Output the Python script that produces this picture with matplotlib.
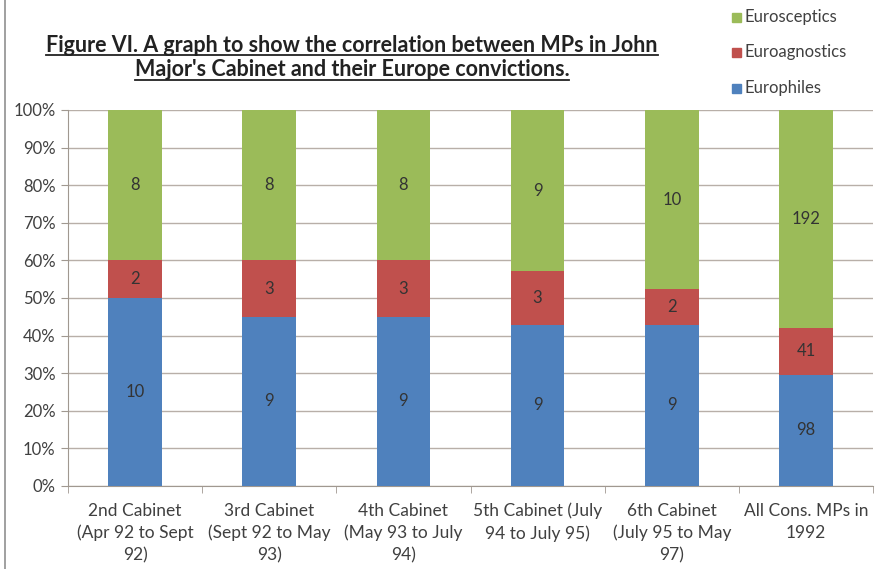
import matplotlib
matplotlib.use("Agg")
import matplotlib.pyplot as plt
import numpy as np
from matplotlib.lines import Line2D

categories = ["2nd Cabinet\n(Apr 92 to Sept\n92)", "3rd Cabinet\n(Sept 92 to May\n93)",
              "4th Cabinet\n(May 93 to July\n94)", "5th Cabinet (July\n94 to July 95)",
              "6th Cabinet\n(July 95 to May\n97)", "All Cons. MPs in\n1992"]
europhiles = [10, 9, 9, 9, 9, 98]
euroagnostics = [2, 3, 3, 3, 2, 41]
eurosceptics = [8, 8, 8, 9, 10, 192]
yticks = [0, 10, 20, 30, 40, 50, 60, 70, 80, 90, 100]

c_blue, c_red, c_green = "#4F81BD", "#C0504D", "#9BBB59"
font = ["Lato", "DejaVu Sans"]
plt.rcParams["font.family"] = font

fig = plt.figure(figsize=(8.8, 5.69), dpi=100)
ax = fig.add_axes([68/880, 1-486/569, 805/880, 376/569])

x = np.arange(len(categories))
phil = np.array(europhiles, float)
agn = np.array(euroagnostics, float)
scep = np.array(eurosceptics, float)
tot = phil + agn + scep
p1, p2, p3 = phil/tot*100, agn/tot*100, scep/tot*100

w = 0.4
ax.bar(x, p1, w, color=c_blue, zorder=3)
ax.bar(x, p2, w, bottom=p1, color=c_red, zorder=3)
ax.bar(x, p3, w, bottom=p1+p2, color=c_green, zorder=3)

txtc = "#333333"
for i in range(len(x)):
    ax.text(x[i], p1[i]/2, str(europhiles[i]), ha="center", va="center", fontsize=12, color=txtc, zorder=4)
    ax.text(x[i], p1[i]+p2[i]/2, str(euroagnostics[i]), ha="center", va="center", fontsize=12, color=txtc, zorder=4)
    ax.text(x[i], p1[i]+p2[i]+p3[i]/2, str(eurosceptics[i]), ha="center", va="center", fontsize=12, color=txtc, zorder=4)

ax.set_xlim(-0.5, len(x)-0.5)
ax.set_ylim(0, 100)
ax.set_yticks(yticks)
ax.set_yticklabels([f"{t}%" for t in yticks], fontsize=12, color="#404040")
ax.yaxis.grid(True, color="#B8AFA8", linewidth=1, zorder=0)
ax.set_xticks(x)
ax.set_xticklabels(categories, fontsize=12.5, color="#404040", linespacing=1.45)
ax.set_xticks(np.arange(-0.5, len(x)), minor=True)
ax.tick_params(axis="x", which="major", length=0, pad=12)
ax.tick_params(axis="x", which="minor", length=5, color="#A09890")
ax.tick_params(axis="y", length=5, color="#A09890", pad=4)
for s in ["top", "right"]:
    ax.spines[s].set_visible(False)
ax.spines["left"].set_color("#A09890")
ax.spines["bottom"].set_color("#A09890")

# title with underline
t1 = fig.text(352/880, 1-45/569, "Figure VI. A graph to show the correlation between MPs in John",
              ha="center", va="center", fontsize=15.5, fontweight="bold", color="#222222")
t2 = fig.text(352/880, 1-70/569, "Major's Cabinet and their Europe convictions.",
              ha="center", va="center", fontsize=15.5, fontweight="bold", color="#222222")
fig.canvas.draw()
r = fig.canvas.get_renderer()
for t in (t1, t2):
    bb = t.get_window_extent(r)
    y0 = (bb.y0 + 1) / fig.bbox.height
    fig.add_artist(Line2D([bb.x0/fig.bbox.width, bb.x1/fig.bbox.width], [y0, y0],
                          transform=fig.transFigure, color="#222222", linewidth=1.3))

# legend
leg = [("Eurosceptics", c_green, 17), ("Euroagnostics", c_red, 52), ("Europhiles", c_blue, 88)]
for name, col, yy in leg:
    fig.patches.append(plt.Rectangle((732/880, 1-(yy+5)/569), 9/880, 9/569,
                                     transform=fig.transFigure, color=col))
    fig.text(744/880, 1-yy/569, name, ha="left", va="center", fontsize=12, color="#404040")

# figure frame edge
fig.add_artist(Line2D([5/880, 5/880], [0, 1], transform=fig.transFigure, color="#909090", linewidth=1.2))

fig.savefig("out.png", dpi=100)
